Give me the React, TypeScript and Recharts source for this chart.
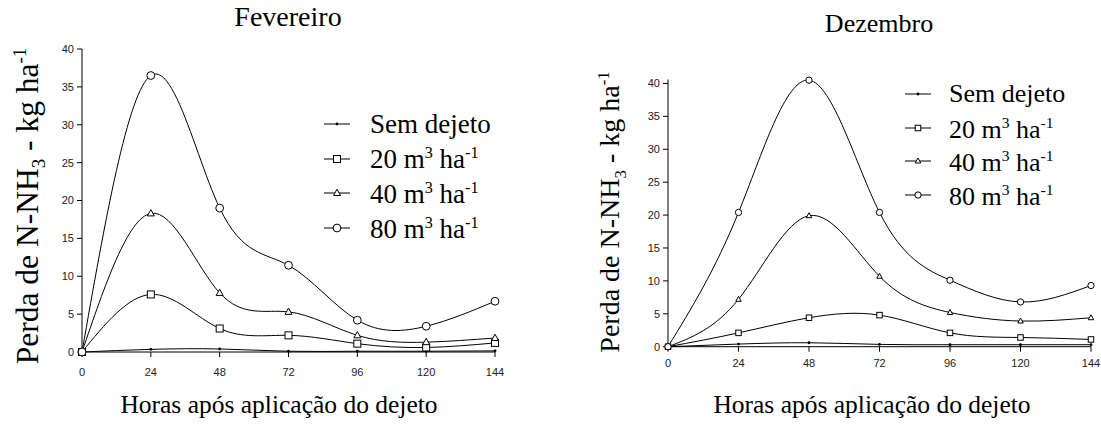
import React from 'react';
import { LineChart, Line, XAxis, YAxis } from 'recharts';

const HOURS = [0, 24, 48, 72, 96, 120, 144];
const Y_TICKS = [0, 5, 10, 15, 20, 25, 30, 35, 40];

// Fevereiro
const FEV_SEM = [0, 0.35, 0.4, 0.1, 0.1, 0.1, 0.15];
const FEV_20 = [0, 7.6, 3.1, 2.2, 1.1, 0.6, 1.2];
const FEV_40 = [0, 18.3, 7.8, 5.3, 2.2, 1.3, 1.85];
const FEV_80 = [0, 36.5, 19.0, 11.45, 4.2, 3.4, 6.7];

// Dezembro
const DEZ_SEM = [0, 0.4, 0.6, 0.35, 0.3, 0.3, 0.3];
const DEZ_20 = [0, 2.1, 4.4, 4.8, 2.1, 1.4, 1.1];
const DEZ_40 = [0, 7.2, 19.9, 10.7, 5.2, 3.9, 4.4];
const DEZ_80 = [0, 20.4, 40.5, 20.4, 10.1, 6.8, 9.3];

const SERIES = ['sem', 'd20', 'd40', 'd80'] as const;
type Kind = typeof SERIES[number];

const SERIF = "'Liberation Serif', Tinos, 'Times New Roman', 'DejaVu Serif', serif";
const SANS = "'Liberation Sans', Arial, sans-serif";

function buildRows(sem: number[], d20: number[], d40: number[], d80: number[]) {
  return HOURS.map((h, i) => ({ h, sem: sem[i], d20: d20[i], d40: d40[i], d80: d80[i] }));
}

const fevRows = buildRows(FEV_SEM, FEV_20, FEV_40, FEV_80);
const dezRows = buildRows(DEZ_SEM, DEZ_20, DEZ_40, DEZ_80);

function Marker({ kind, cx, cy, s }: { kind: Kind; cx: number; cy: number; s: number }) {
  if (kind === 'sem') return <circle cx={cx} cy={cy} r={1.4} fill="#000" />;
  if (kind === 'd20')
    return <rect x={cx - s / 2} y={cy - s / 2} width={s} height={s} fill="#fff" stroke="#000" strokeWidth={1} />;
  if (kind === 'd40') {
    const h = s * 0.9;
    return (
      <polygon
        points={`${cx},${cy - h * 0.6} ${cx - s / 2},${cy + h * 0.4} ${cx + s / 2},${cy + h * 0.4}`}
        fill="#fff"
        stroke="#000"
        strokeWidth={1}
      />
    );
  }
  return <circle cx={cx} cy={cy} r={s / 2 + 0.4} fill="#fff" stroke="#000" strokeWidth={1} />;
}

const sup = { fontSize: '0.6em' };
const LABELS: Record<Kind, React.ReactNode> = {
  sem: 'Sem dejeto',
  d20: <>20 m<sup style={sup}>3</sup> ha<sup style={sup}>-1</sup></>,
  d40: <>40 m<sup style={sup}>3</sup> ha<sup style={sup}>-1</sup></>,
  d80: <>80 m<sup style={sup}>3</sup> ha<sup style={sup}>-1</sup></>,
};

interface PanelProps {
  left: number;
  width: number;
  rows: ReturnType<typeof buildRows>;
  margin: { top: number; right: number; bottom: number; left: number };
  yMax: number;
  markerSize: number;
  tickMargin: number;
}

function Panel({ left, width, rows, margin, yMax, markerSize, tickMargin }: PanelProps) {
  return (
    <div style={{ position: 'absolute', left, top: 0 }}>
      <LineChart width={width} height={435} data={rows} margin={margin}>
        <XAxis
          dataKey="h"
          type="number"
          domain={[0, 144]}
          ticks={HOURS}
          height={30}
          tickSize={5}
          tickMargin={tickMargin}
          axisLine={{ stroke: '#000' }}
          tickLine={{ stroke: '#000' }}
          tick={{ fill: '#222', fontSize: 11, fontFamily: SANS }}
        />
        <YAxis
          type="number"
          domain={[0, yMax]}
          ticks={Y_TICKS}
          width={40}
          tickSize={5}
          tickMargin={3}
          axisLine={{ stroke: '#000' }}
          tickLine={{ stroke: '#000' }}
          tick={{ fill: '#222', fontSize: 11, fontFamily: SANS }}
        />
        {SERIES.map((k) => (
          <Line
            key={k}
            dataKey={k}
            type="natural"
            stroke="#000"
            strokeWidth={1}
            isAnimationActive={false}
            dot={(p: any) => <Marker key={`${k}-${p.index}`} kind={k} cx={p.cx} cy={p.cy} s={markerSize} />}
            activeDot={false}
          />
        ))}
      </LineChart>
    </div>
  );
}

function Legend({ x, textX, y0, step, fontSize, markerSize }: {
  x: number; textX: number; y0: number; step: number; fontSize: number; markerSize: number;
}) {
  return (
    <>
      {SERIES.map((k, i) => {
        const cy = y0 + i * step;
        return (
          <React.Fragment key={k}>
            <svg style={{ position: 'absolute', left: x, top: cy - 8 }} width={26} height={16}>
              <line x1={0} y1={8} x2={26} y2={8} stroke="#000" strokeWidth={1} />
              <Marker kind={k} cx={13} cy={8} s={markerSize} />
            </svg>
            <div
              style={{
                position: 'absolute', left: textX, top: cy - fontSize / 2, fontSize, lineHeight: 1,
                fontFamily: SERIF, whiteSpace: 'nowrap', color: '#000',
              }}
            >
              {LABELS[k]}
            </div>
          </React.Fragment>
        );
      })}
    </>
  );
}

function YTitle({ cx, cy, fontSize }: { cx: number; cy: number; fontSize: number }) {
  return (
    <div
      style={{
        position: 'absolute', left: cx, top: cy, fontSize, lineHeight: 1, fontFamily: SERIF,
        whiteSpace: 'nowrap', transform: 'translate(-50%, -50%) rotate(-90deg)', color: '#000',
      }}
    >
      Perda de N-NH<sub style={sup}>3</sub> - kg ha<sup style={sup}>-1</sup>
    </div>
  );
}

function Text({ cx, top, fontSize, children }: { cx: number; top: number; fontSize: number; children: React.ReactNode }) {
  return (
    <div
      style={{
        position: 'absolute', left: cx, top, fontSize, lineHeight: 1, fontFamily: SERIF,
        whiteSpace: 'nowrap', transform: 'translateX(-50%)', color: '#000',
      }}
    >
      {children}
    </div>
  );
}

export default function App() {
  return (
    <div style={{ position: 'absolute', left: 0, top: 0, width: 1101, height: 435, background: '#fff', overflow: 'hidden', fontFamily: SERIF }}>
      <Panel
        left={0}
        width={560}
        rows={fevRows}
        margin={{ top: 49, right: 65, bottom: 53, left: 42 }}
        yMax={40}
        markerSize={7}
        tickMargin={11}
      />
      <Panel
        left={560}
        width={541}
        rows={dezRows}
        margin={{ top: 79.5, right: 10, bottom: 58.3, left: 68 }}
        yMax={40.6}
        markerSize={5.5}
        tickMargin={7}
      />

      <Text cx={288} top={3} fontSize={28}>Fevereiro</Text>
      <Text cx={879} top={11} fontSize={26}>Dezembro</Text>

      <Text cx={279} top={392} fontSize={25.5}>Horas após aplicação do dejeto</Text>
      <Text cx={872} top={392} fontSize={25.5}>Horas após aplicação do dejeto</Text>

      <YTitle cx={30} cy={206} fontSize={31.5} />
      <YTitle cx={613} cy={212} fontSize={28} />

      <Legend x={324} textX={370} y0={124} step={34.7} fontSize={27} markerSize={7} />
      <Legend x={905} textX={949} y0={94} step={33.7} fontSize={26} markerSize={5.5} />
    </div>
  );
}
